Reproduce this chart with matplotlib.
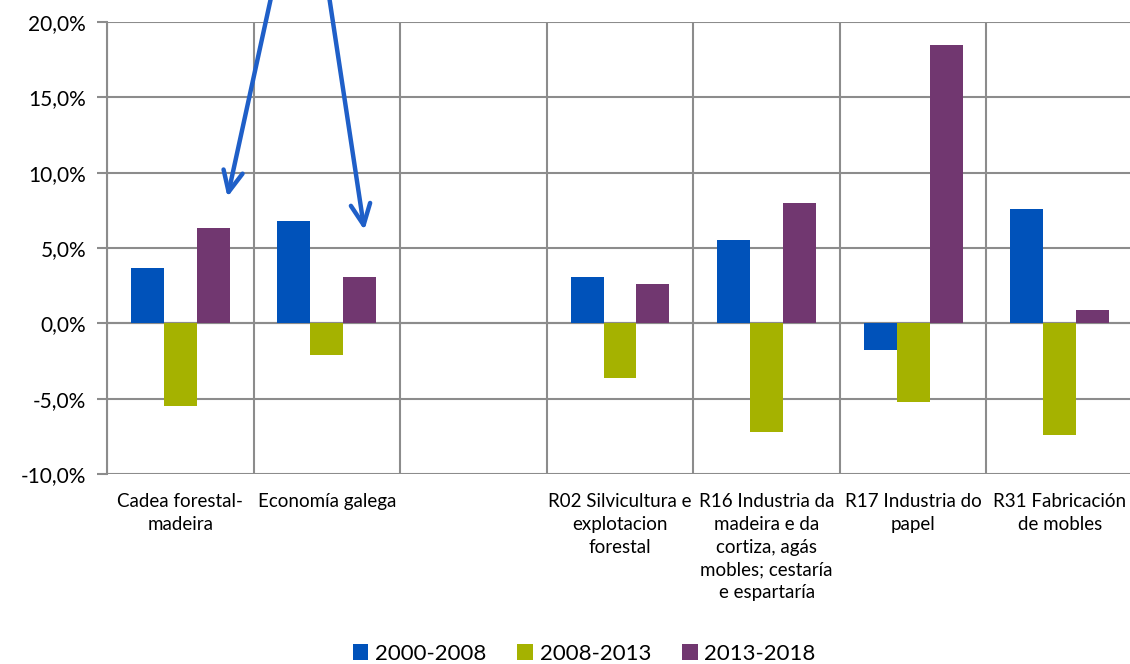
import numpy as np
from matplotlib import pyplot as plt
from matplotlib.ticker import FuncFormatter, FixedLocator

plt.rcParams['font.family'] = ['Lato', 'DejaVu Sans']

categories = ['Cadea forestal-\nmadeira', 'Economía galega', '',
              'R02 Silvicultura e\nexplotacion\nforestal',
              'R16 Industria da\nmadeira e da\ncortiza, agás\nmobles; cestaría\ne espartaría',
              'R17 Industria do\npapel', 'R31 Fabricación\nde mobles']
series = ['2000-2008', '2008-2013', '2013-2018']
v_2000_2008 = [3.7, 6.8, np.nan, 3.1, 5.5, -1.8, 7.6]
v_2008_2013 = [-5.5, -2.1, np.nan, -3.6, -7.2, -5.2, -7.4]
v_2013_2018 = [6.3, 3.1, np.nan, 2.6, 8.0, 18.5, 0.9]
colors = ['#0052BA', '#A5B200', '#713770']

fig = plt.figure(figsize=(11.3, 6.64), dpi=100)
ax = fig.add_axes([107/1130, 190/664, 1026/1130, 452/664])

x = np.arange(len(categories))
w = 0.225
for i, (vals, c, lab) in enumerate(zip([v_2000_2008, v_2008_2013, v_2013_2018], colors, series)):
    ax.bar(x + (i - 1) * w, vals, w, color=c, label=lab, zorder=3)

ax.set_xlim(-0.5, len(categories) - 0.5)
ax.set_ylim(-10, 20)
ax.set_yticks(np.arange(-10, 20.1, 5))
ax.yaxis.set_major_formatter(FuncFormatter(lambda v, p: f'{v:.1f}%'.replace('.', ',')))
ax.set_xticks(x)
ax.set_xticklabels(categories, fontsize=13.5, va='top', linespacing=1.4)
ax.xaxis.set_minor_locator(FixedLocator(np.arange(-0.5, len(categories), 1)))
ax.tick_params(axis='x', which='both', length=0, pad=14)
ax.tick_params(axis='y', length=7, width=1.5, color='#8C8C8C', labelsize=15, pad=8)
ax.grid(axis='y', color='#8C8C8C', linewidth=1.5, zorder=1)
ax.grid(axis='x', which='minor', color='#8C8C8C', linewidth=1.5, zorder=1)
for s in ['top', 'right', 'bottom']:
    ax.spines[s].set_visible(False)
ax.spines['left'].set_color('#8C8C8C')
ax.spines['left'].set_linewidth(1.5)
ax.axhline(0, color='#8C8C8C', linewidth=1.5, zorder=2)

# arrows from the top
arrow_col = '#1F5FC8'
ax.annotate('', xy=(0.318, 8.2), xytext=(0.65, 23), annotation_clip=False,
            arrowprops=dict(arrowstyle='->,head_length=1.5,head_width=0.7', color=arrow_col, lw=3.2))
ax.annotate('', xy=(1.259, 6.0), xytext=(0.995, 23), annotation_clip=False,
            arrowprops=dict(arrowstyle='->,head_length=1.5,head_width=0.7', color=arrow_col, lw=3.2))

fig.legend(loc='lower center', bbox_to_anchor=(0.517, -0.03), ncol=3, frameon=False,
           fontsize=16, handlelength=0.7, handleheight=0.7, handletextpad=0.3, columnspacing=1.4)

plt.savefig('out.png')
